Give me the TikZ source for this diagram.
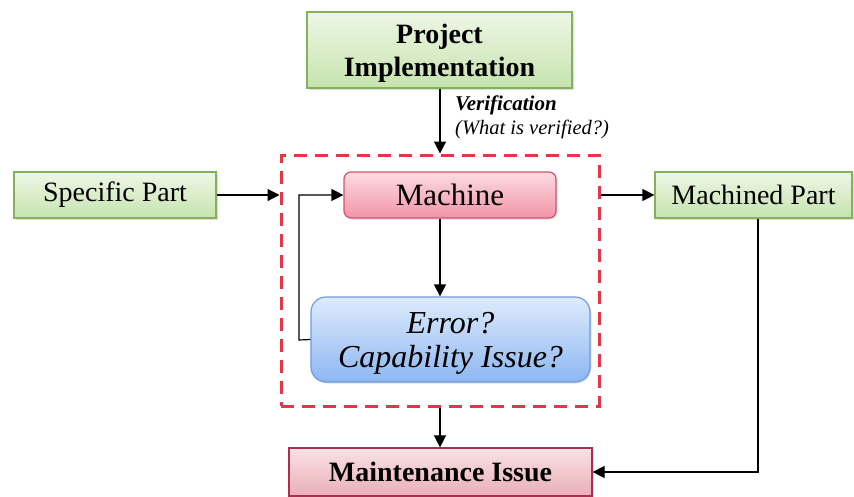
\documentclass[tikz,border=0pt]{standalone}
\usepackage{fontspec}
\setmainfont{Liberation Serif}
\usetikzlibrary{arrows.meta,calc,shadows}
\definecolor{gtop}{HTML}{EEF7E6}
\definecolor{gbot}{HTML}{C6E3AE}
\definecolor{gbord}{HTML}{82B25A}
\definecolor{ptop}{HTML}{FCDCE2}
\definecolor{pbot}{HTML}{F294A8}
\definecolor{pbord}{HTML}{D8506C}
\definecolor{btop}{HTML}{DEEBFC}
\definecolor{bbot}{HTML}{8DB7F2}
\definecolor{bbord}{HTML}{6A9DE2}
\definecolor{mtop}{HTML}{F9E2E5}
\definecolor{mbot}{HTML}{EAAEB7}
\definecolor{mbord}{HTML}{A8304E}
\definecolor{dashred}{HTML}{E03848}
\tikzset{
  boxbase/.style={inner sep=0pt, align=center, line width=1.2pt,
    drop shadow={opacity=0.25, shadow xshift=1.5pt, shadow yshift=-1.5pt}},
  greenbox/.style={boxbase, draw=gbord, top color=gtop, bottom color=gbot,
    minimum height=46pt, font=\fontsize{28}{32}\selectfont},
  pinkbox/.style={boxbase, draw=pbord, top color=ptop, bottom color=pbot,
    rounded corners=7pt, font=\fontsize{31}{34}\selectfont},
  bluebox/.style={boxbase, draw=bbord, top color=btop, bottom color=bbot,
    rounded corners=15pt, font=\itshape\fontsize{32}{35}\selectfont},
  maintbox/.style={boxbase, draw=mbord, top color=mtop, bottom color=mbot,
    font=\bfseries\fontsize{28}{32}\selectfont},
  frame/.style={draw=dashred, line width=3pt, dash pattern=on 13pt off 8pt, inner sep=0pt},
  conn/.style={draw=black, line width=1.2pt, -{Triangle[length=12pt,width=12pt]}},
  lbl/.style={inner sep=0pt, align=left, anchor=north west, font=\fontsize{21}{24}\selectfont}
}
\begin{document}
\begin{tikzpicture}[x=1pt,y=-1pt]
\useasboundingbox (0,0) rectangle (854,496);
\node[frame, minimum width=318pt, minimum height=251pt] (fr) at (440,280.5) {};
\node[greenbox, minimum width=265pt, minimum height=76pt, font=\bfseries\fontsize{28}{34}\selectfont] (proj) at (439.5,50) {\raisebox{-3pt}[\height][\depth]{\begin{tabular}{@{}c@{}}Project\\[-1pt]Implementation\end{tabular}}};
\node[greenbox, minimum width=202pt] (spec) at (115,195) {Specific Part};
\node[greenbox, minimum width=197pt] (mach) at (753.5,195) {Machined Part};
\node[pinkbox, minimum width=212pt, minimum height=46pt] (m) at (450,195) {Machine};
\node[bluebox, minimum width=279pt, minimum height=85pt] (err) at (450.5,339.5) {\raisebox{-4pt}[\height][\depth]{\begin{tabular}{@{}c@{}}Error?\\[-1pt]Capability Issue?\end{tabular}}};
\node[maintbox, minimum width=303pt, minimum height=48pt] (mi) at (440.5,472) {Maintenance Issue};
\node[lbl] (ver) at (455,96) {\textbf{\textit{Verification}}\\\fontsize{20.5}{24}\selectfont\textit{(What is verified?)}};
\coordinate (loop) at (299,340);
\draw[conn] (proj.south -| fr.north) -- (fr.north);
\draw[conn] (spec.east) -- (spec.east -| fr.west);
\draw[conn] (fr.east |- mach.west) -- (mach.west);
\draw[conn] (m.south -| fr.north) -- (err.north -| fr.north);
\draw[conn] (err.west) -- (loop) |- (m.west);
\draw[conn] (fr.south) -- (mi.north -| fr.south);
\draw[conn] ($(mach.south)+(4.5,0)$) |- (mi.east);
\end{tikzpicture}
\end{document}
